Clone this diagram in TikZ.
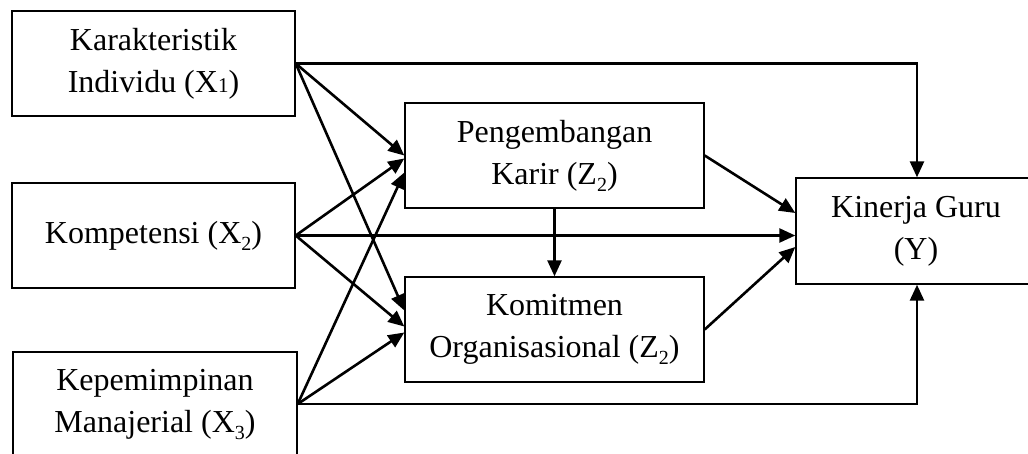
\documentclass[tikz,border=0pt]{standalone}
\usepackage{fontspec}
\setmainfont{Liberation Serif}
\usetikzlibrary{arrows.meta}
\newcommand\lowsub[1]{\raisebox{-7pt}{\fontsize{20}{20}\selectfont #1}}
\begin{document}
\begin{tikzpicture}[x=1pt,y=-1pt,
  box/.style={draw,line width=1.4pt,rectangle,align=center,inner sep=0pt,
    font=\fontsize{32}{42}\selectfont},
  arr/.style={line width=2.6pt,-{Triangle[length=16pt,width=14pt]}}]
\useasboundingbox (0,0) rectangle (1028,453);
\node[box,minimum width=283pt,minimum height=105pt] (X1) at (153.5,63.5) {Karakteristik\\Individu (X{\fontsize{21}{21}\selectfont 1})};
\node[box,minimum width=283pt,minimum height=105pt] (X2) at (153.5,235.5) {Kompetensi (X\lowsub{2})};
\node[box,minimum width=284pt,minimum height=104pt] (X3) at (155,404) {Kepemimpinan\\Manajerial (X\lowsub{3})};
\node[box,minimum width=299pt,minimum height=105pt] (Z1) at (554.5,155.5) {Pengembangan\\Karir (Z\lowsub{2})};
\node[box,minimum width=299pt,minimum height=105pt] (Z2) at (554.5,329.5) {Komitmen\\Organisasional (Z\lowsub{2})};
\node[box,minimum width=240pt,minimum height=106pt] (Y) at (916,231) {Kinerja Guru\\(Y)};
% from X1
\draw[arr] (X1.east) -- (Z1.west);
\draw[arr] (X1.east) -- ([yshift=19pt]Z2.west);
\draw[arr] (X1.east) -| ([xshift=1pt]Y.north);
% from X2
\draw[arr] (X2.east) -- ([yshift=-3pt]Z1.west);
\draw[arr] (X2.east) -- (X2.east -| Y.west);
\draw[arr] (X2.east) -- ([yshift=3pt]Z2.west);
% from X3
\draw[arr] (X3.east) -- ([yshift=-17pt]Z1.west);
\draw[arr] (X3.east) -- ([yshift=-3pt]Z2.west);
\draw[arr] (X3.east) -| ([xshift=1pt]Y.south);
% mediators
\draw[arr] (Z1.east) -- ([yshift=18pt]Y.west);
\draw[arr] (Z1.south) -- (Z2.north);
\draw[arr] (Z2.east) -- ([yshift=-16pt]Y.west);
\end{tikzpicture}
\end{document}
